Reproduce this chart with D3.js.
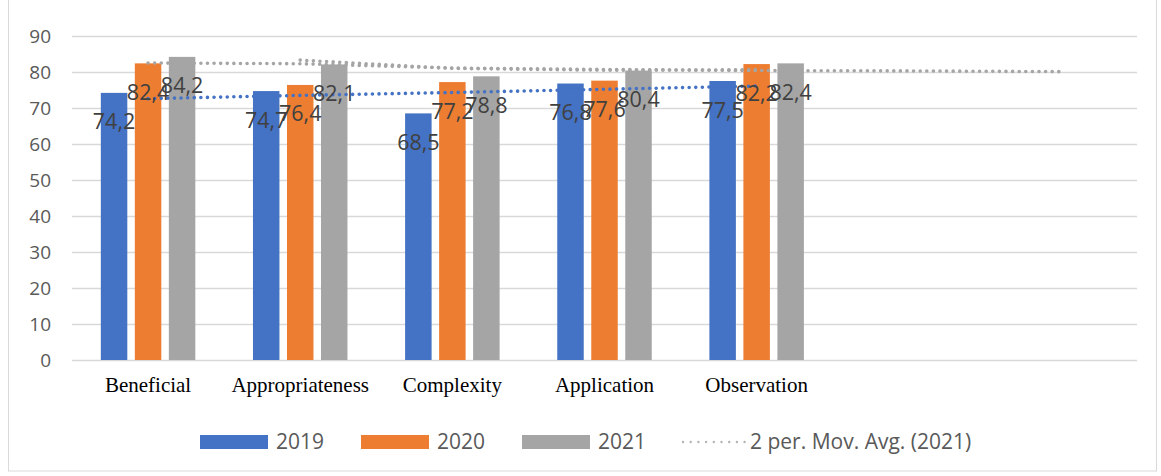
<!DOCTYPE html>
<html>
<head>
<meta charset="utf-8">
<script src="https://cdn.jsdelivr.net/npm/d3@7"></script>
<style>
  body { margin: 0; background: #fff; }
  svg { display: block; }
</style>
</head>
<body>
<div id="chart"></div>
<script>
// categories (last two slots are empty in the original)
const categories = ["Beneficial", "Appropriateness", "Complexity", "Application", "Observation", "", ""];
const seriesNames = ["2019", "2020", "2021"];
const values2019 = [74.2, 74.7, 68.5, 76.8, 77.5];
const values2020 = [82.4, 76.4, 77.2, 77.6, 82.2];
const values2021 = [84.2, 82.1, 78.8, 80.4, 82.4];
// dotted lines
const trend2019 = [72.6, 73.5, 74.3, 75.2, 76.1];
const movAvgA = [82.5, 82.3, 81.1, 80.7, 80.4, 80.3, 80.1];
const movAvgB = [null, 83.3, 81.0, 80.5, 80.6];
const yTicks = [0, 10, 20, 30, 40, 50, 60, 70, 80, 90];
const legendLabels = ["2019", "2020", "2021", "2 per. Mov. Avg. (2021)"];

const colors = {"2019": "#4472c4", "2020": "#ed7d31", "2021": "#a5a5a5"};
const W = 1161, H = 476;
const plot = {left: 72, right: 1137, top: 36, bottom: 360};
const sans = "Open Sans, sans-serif";

const svg = d3.select("#chart").append("svg")
  .attr("width", W).attr("height", H);

// chart frame
svg.append("rect")
  .attr("x", 8.5).attr("y", -1).attr("width", 1148).attr("height", 472)
  .attr("fill", "none").attr("stroke", "#d9d9d9");

const idx = d3.range(categories.length);
const x0 = d3.scaleBand().domain(idx).range([plot.left, plot.right]).padding(0);
const groupW = 94.5;
const x1 = d3.scaleBand().domain(seriesNames).range([0, groupW]).paddingInner(0.221);
const y = d3.scaleLinear().domain([0, 90]).range([plot.bottom, plot.top]);
const cx = i => x0(i) + x0.bandwidth() / 2;

// gridlines
svg.append("g").selectAll("line").data(yTicks).join("line")
  .attr("x1", plot.left).attr("x2", plot.right)
  .attr("y1", d => Math.round(y(d)) + 0.5).attr("y2", d => Math.round(y(d)) + 0.5)
  .attr("stroke", "#d9d9d9").attr("stroke-width", 1.5);

// y axis labels
const yAxis = svg.append("g").attr("transform", "translate(51,0)")
  .call(d3.axisLeft(y).tickValues(yTicks).tickSize(0).tickPadding(0));
yAxis.select(".domain").remove();
yAxis.selectAll("text")
  .attr("font-family", sans).attr("font-size", 19)
  .attr("fill", "#595959");

// bars
const seriesData = [values2019, values2020, values2021];
seriesNames.forEach((s, si) => {
  const vals = seriesData[si];
  svg.append("g").selectAll("rect").data(vals).join("rect")
    .attr("x", (d, i) => x0(i) + (x0.bandwidth() - groupW) / 2 + x1(s))
    .attr("y", d => y(d))
    .attr("width", x1.bandwidth())
    .attr("height", d => y(0) - y(d))
    .attr("fill", colors[s]);
});

// dotted lines
const line = d3.line().defined(d => d[1] != null).x(d => cx(d[0])).y(d => y(d[1]));
function dotted(vals, color) {
  svg.append("path")
    .datum(vals.map((v, i) => [i, v]))
    .attr("d", line)
    .attr("fill", "none").attr("stroke", color)
    .attr("stroke-width", 3.6).attr("stroke-linecap", "round")
    .attr("stroke-dasharray", "0 6.6");
}
dotted(movAvgA, "#a5a5a5");
dotted(movAvgB, "#a5a5a5");
dotted(trend2019, "#4472c4");

// data labels (inside end)
seriesNames.forEach((s, si) => {
  const vals = seriesData[si];
  svg.append("g").selectAll("text").data(vals).join("text")
    .attr("x", (d, i) => x0(i) + (x0.bandwidth() - groupW) / 2 + x1(s) + x1.bandwidth() / 2)
    .attr("y", d => y(d) + 29)
    .attr("dy", "0.35em")
    .attr("text-anchor", "middle")
    .attr("font-family", sans).attr("font-size", 21.5)
    .attr("fill", "#404040")
    .text(d => d3.format(".1f")(d).replace(".", ","));
});

// category labels
svg.append("g").selectAll("text").data(categories).join("text")
  .attr("x", (d, i) => cx(i))
  .attr("y", 392)
  .attr("text-anchor", "middle")
  .attr("font-family", "Liberation Serif, Times New Roman, serif").attr("font-size", 21)
  .attr("fill", "#000")
  .text(d => d);

// legend
const legendX = [200, 361, 522, 682];
const leg = svg.append("g");
legendLabels.forEach((lab, i) => {
  const g = leg.append("g").attr("transform", `translate(${legendX[i]},442)`);
  if (i < 3) {
    g.append("rect").attr("x", 0).attr("y", -7).attr("width", 68).attr("height", 14)
      .attr("fill", colors[seriesNames[i]]);
    g.append("text").attr("x", 76).attr("dy", "0.35em")
      .attr("font-family", sans).attr("font-size", 21)
      .attr("fill", "#595959").text(lab);
  } else {
    g.append("line").attr("x1", 1).attr("x2", 63).attr("y1", 0).attr("y2", 0)
      .attr("stroke", "#b4b4b4").attr("stroke-width", 2.4)
      .attr("stroke-linecap", "round").attr("stroke-dasharray", "0 7.7");
    g.append("text").attr("x", 68).attr("dy", "0.35em")
      .attr("font-family", sans).attr("font-size", 21)
      .attr("fill", "#595959").text(lab);
  }
});
</script>
</body>
</html>
